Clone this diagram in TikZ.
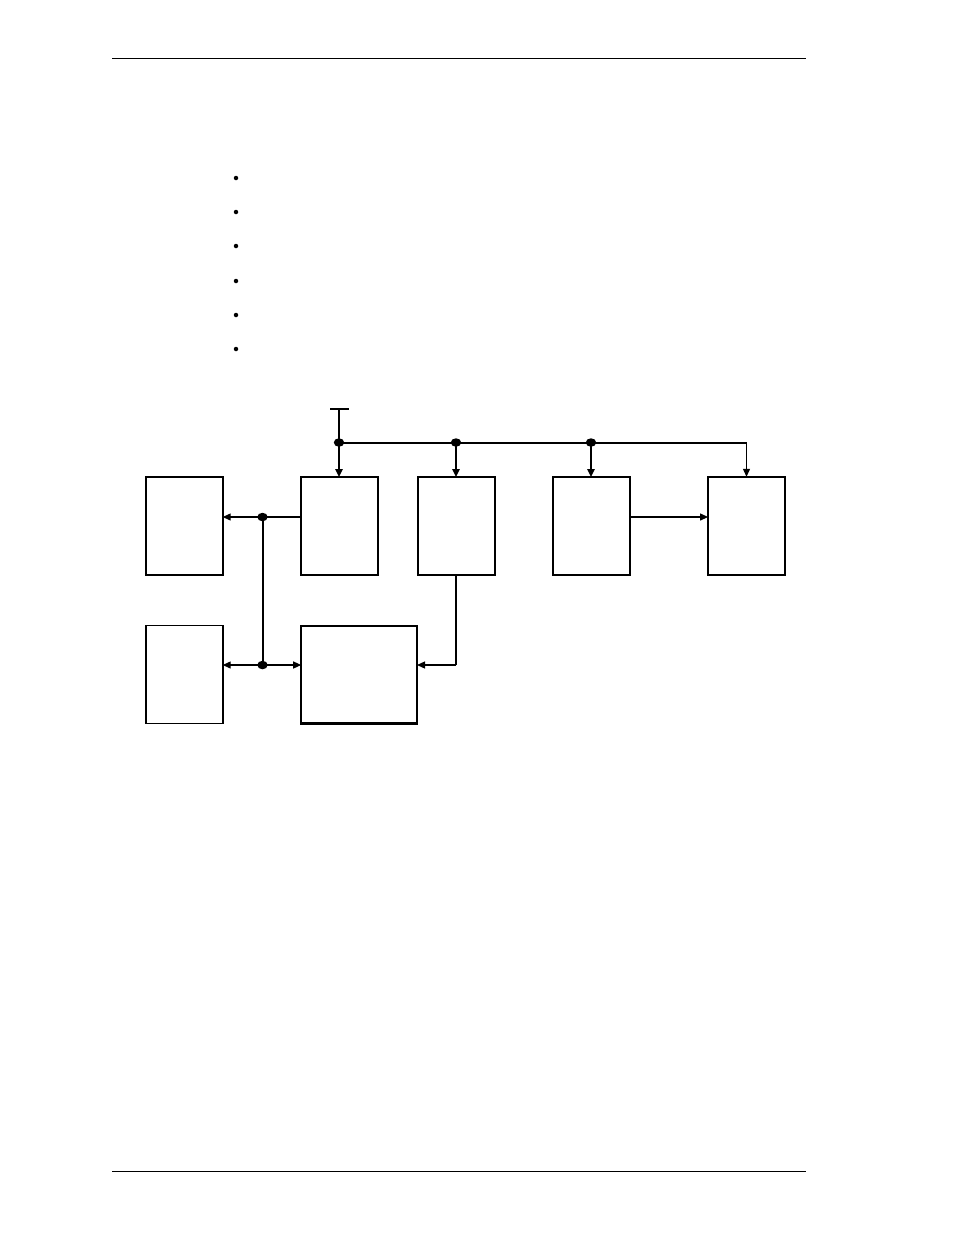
\documentclass[tikz,border=0pt]{standalone}
\usetikzlibrary{arrows.meta,shapes.geometric}
\begin{document}
\begin{tikzpicture}[x=1pt,y=-1pt,
  thinbox/.style={draw,line width=1.6pt,inner sep=0pt,outer sep=0pt,anchor=north west},
  thickbox/.style={draw,line width=2.4pt,inner sep=0pt,outer sep=0pt,anchor=north west},
  wire/.style={line width=1.2pt},
  bus/.style={line width=2pt},
  arr/.style={-{Triangle[length=8pt,width=7pt]}},
  jdot/.style={fill=black,ellipse,inner sep=0pt,minimum width=10.5pt,minimum height=8.5pt},
  bul/.style={circle,fill=black,inner sep=0pt,minimum size=4.5pt}]
\useasboundingbox (0,0) rectangle (954,1235);
% page rules
\coordinate (r1a) at (112,58); \coordinate (r1b) at (806,58);
\coordinate (r2a) at (112,1171); \coordinate (r2b) at (806,1171);
\draw[line width=0.8pt] (r1a) -- (r1b);
\draw[line width=0.8pt] (r2a) -- (r2b);
% bullets
\foreach \i/\y in {1/178,2/212,3/246,4/281,5/315,6/349}
  \node[bul] (b\i) at (236,\y) {};
% boxes
\node[thinbox,minimum width=76.5pt,minimum height=98pt] (A) at (146.2,476.8) {};
\node[thickbox,minimum width=76.8pt,minimum height=97.6pt] (B) at (301.2,477.2) {};
\node[thickbox,minimum width=76.8pt,minimum height=97.6pt] (C) at (417.9,477.2) {};
\node[thickbox,minimum width=76.8pt,minimum height=97.6pt] (F) at (553.2,477.2) {};
\node[thinbox,minimum width=77pt,minimum height=98pt] (G) at (708.1,476.8) {};
\node[thinbox,minimum width=76.5pt,minimum height=98pt] (D) at (146.2,625.5) {};
\node[thickbox,minimum width=115.8pt,minimum height=97.6pt] (E) at (301.2,625.9) {};
% power input
\coordinate (t1) at (330,409); \coordinate (t2) at (349,409);
\coordinate (tin) at (339,409);
\draw[line width=1.6pt] (t1) -- (t2);
\coordinate (j1) at (339,442.5);
\coordinate (j2) at (456,442.5);
\coordinate (j3) at (591,442.5);
\coordinate (jend) at (746.5,442.5);
\draw[bus] (tin) -- (j1);
\draw[bus] (j1) -- (jend);
\draw[bus,arr] (j1) -- (B.north -| j1);
\draw[bus,arr] (j2) -- (C.north -| j2);
\draw[bus,arr] (j3) -- (F.north -| j3);
\draw[wire,arr] (jend) -- (G.north -| jend);
\node[jdot] (d1) at (j1) {};
\node[jdot] (d2) at (j2) {};
\node[jdot] (d3) at (j3) {};
% left side connections
\coordinate (k1) at (262.5,517);
\coordinate (k2) at (262.5,665);
\draw[wire] (B.west |- k1) -- (k1);
\draw[wire,arr] (k1) -- (A.east |- k1);
\draw[bus] (k1) -- (k2);
\draw[wire,arr] (k2) -- (D.east |- k2);
\draw[wire,arr] (k2) -- (E.west |- k2);
\node[jdot] (d4) at (k1) {};
\node[jdot] (d5) at (k2) {};
% C to E
\coordinate (cb) at (456,665);
\draw[bus] (C.south -| cb) -- (cb);
\draw[wire,arr] (cb) -- (E.east |- cb);
% F to G
\draw[wire,arr] (F.east |- k1) -- (G.west |- k1);
\end{tikzpicture}
\end{document}
